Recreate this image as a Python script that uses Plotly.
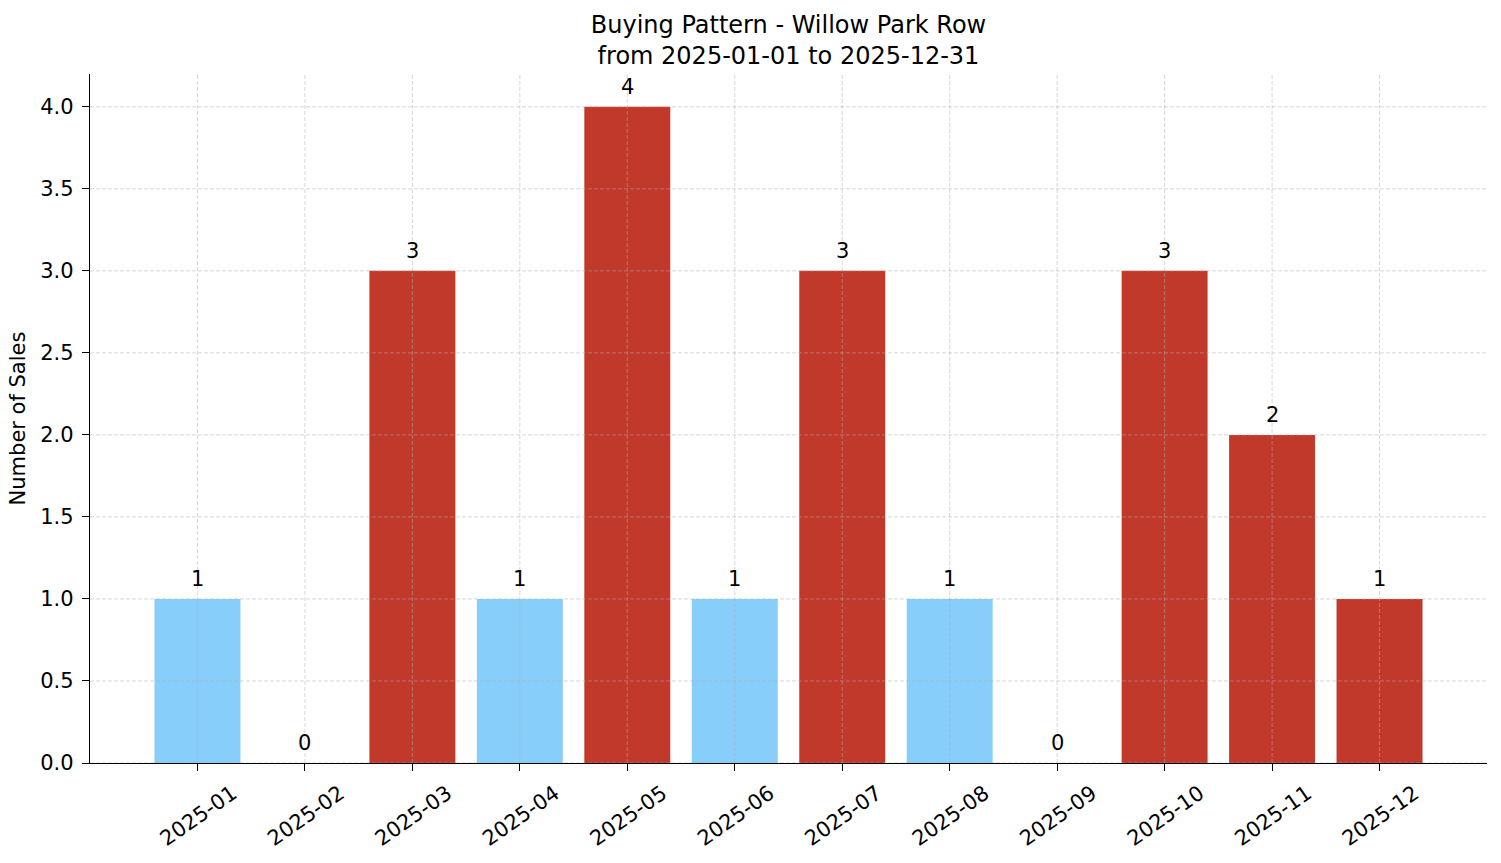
import plotly.graph_objects as go

# monthly sales for the street
months = ["2025-01", "2025-02", "2025-03", "2025-04", "2025-05", "2025-06",
          "2025-07", "2025-08", "2025-09", "2025-10", "2025-11", "2025-12"]
sales = [1, 0, 3, 1, 4, 1, 3, 1, 0, 3, 2, 1]
# which months are drawn in the highlight colour
highlight = [False, False, True, False, True, False, True, False, False, True, True, True]

y_ticks = [0.0, 0.5, 1.0, 1.5, 2.0, 2.5, 3.0, 3.5, 4.0]

RED = "#C0392B"
BLUE = "#87CEFA"
GRID = "rgba(176,176,176,0.5)"
FONT = "DejaVu Sans"

colors = [RED if h else BLUE for h in highlight]

fig = go.Figure()
fig.add_trace(go.Bar(x=list(range(len(months))), y=sales, marker_color=colors,
                     marker_line_width=0, width=0.8, hoverinfo="skip"))

# value labels above bars
for i, v in enumerate(sales):
    fig.add_annotation(x=i, y=v, text=str(v), showarrow=False, yanchor="bottom",
                       yshift=6, font=dict(size=21, color="black", family=FONT))

# matplotlib draws the grid over the bars, so do it with shapes on top
for t in y_ticks:
    fig.add_shape(type="line", xref="paper", x0=0, x1=1, y0=t, y1=t, layer="above",
                  line=dict(color=GRID, width=1, dash="4px,2px"))
for i in range(len(months)):
    fig.add_shape(type="line", yref="paper", x0=i, x1=i, y0=0, y1=1, layer="above",
                  line=dict(color=GRID, width=1, dash="4px,2px"))

fig.update_layout(
    width=1501, height=863,
    margin=dict(l=90, r=14, t=74, b=93),
    plot_bgcolor="white", paper_bgcolor="white",
    font=dict(family=FONT, size=21, color="black"),
    showlegend=False,
    title=dict(text="Buying Pattern - Willow Park Row<br>from 2025-01-01 to 2025-12-31",
               x=0.5, xanchor="center", xref="paper", y=1, yref="paper", yanchor="bottom",
               pad=dict(b=41), font=dict(size=24, family=FONT)),
)

fig.update_xaxes(
    range=[-1, 12], tickmode="array", tickvals=list(range(len(months))), ticktext=months,
    tickangle=-35, ticks="outside", ticklen=7, tickwidth=1.3, tickcolor="black",
    showline=True, linecolor="black", linewidth=1.3, showgrid=False, zeroline=False,
    ticklabelshift=35, ticklabelstandoff=2,
)
fig.update_yaxes(
    range=[0, 4.2], tickmode="array", tickvals=y_ticks, tickformat=".1f",
    ticks="outside", ticklen=7, tickwidth=1.3, tickcolor="black",
    showline=True, linecolor="black", linewidth=1.3, showgrid=False, zeroline=False,
    ticklabelstandoff=4,
    title=dict(text="Number of Sales", font=dict(size=21), standoff=8),
)

fig.write_html("out.html", config={"displayModeBar": False},
               post_script="document.body.style.margin='0';")
